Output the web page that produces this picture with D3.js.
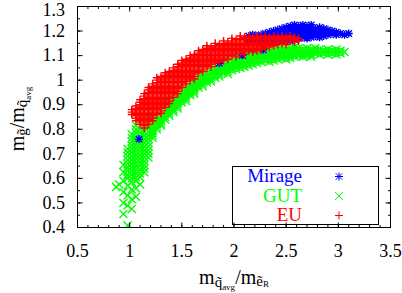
<!DOCTYPE html>
<html><head><meta charset="utf-8">
<script src="https://cdn.jsdelivr.net/npm/d3@7/dist/d3.min.js"></script>
<style>
body{margin:0;background:#fff}
svg{display:block}
svg text{font-family:"Liberation Serif","Times New Roman",serif}
</style>
</head><body>
<svg id="c" width="402" height="293"></svg>
<script>
// ---- data ----
const seriesNames = ["Mirage", "GUT", "EU"];
const xTicks = [0.5, 1, 1.5, 2, 2.5, 3, 3.5];
const yTicks = [0.4, 0.5, 0.6, 0.7, 0.8, 0.9, 1, 1.1, 1.2, 1.3];

// each entry: [x, [y values at that x]]
const euCols = [
[1.02,[.86,.87,.88]],
[1.06,[.835,.845,.855,.865,.875,.885,.895]],
[1.10,[.82,.83,.84,.85,.86,.87,.88,.89,.90,.91,.92]],
[1.14,[.805,.815,.825,.835,.845,.855,.865,.875,.885,.895,.905,.915,.925,.935,.945]],
[1.18,[.82,.83,.84,.85,.86,.87,.88,.89,.90,.91,.92,.93,.94,.95,.96,.97]],
[1.22,[.835,.845,.855,.865,.875,.885,.895,.905,.915,.925,.935,.945,.955,.965,.975,.985]],
[1.26,[.86,.87,.88,.89,.90,.91,.92,.93,.94,.95,.96,.97,.98,.99,1.00,1.01]],
[1.30,[.865,.875,.885,.895,.905,.915,.925,.935,.945,.955,.965,.975,.985,.995,1.005,1.015]],
[1.34,[.89,.90,.91,.92,.93,.94,.95,.96,.97,.98,.99,1.00,1.01,1.02,1.03]],
[1.38,[.905,.915,.925,.935,.945,.955,.965,.975,.985,.995,1.005,1.015,1.025,1.035]],
[1.42,[.93,.94,.95,.96,.97,.98,.99,1.00,1.01,1.02,1.03,1.04,1.05]],
[1.46,[.945,.955,.965,.975,.985,.995,1.005,1.015,1.025,1.035,1.045,1.055,1.065]],
[1.50,[.97,.98,.99,1.00,1.01,1.02,1.03,1.04,1.05,1.06,1.07,1.08]],
[1.54,[.985,.995,1.005,1.015,1.025,1.035,1.045,1.055,1.065,1.075,1.085]],
[1.58,[1.00,1.01,1.02,1.03,1.04,1.05,1.06,1.07,1.08,1.09,1.10]],
[1.62,[1.005,1.015,1.025,1.035,1.045,1.055,1.065,1.075,1.085,1.095,1.105]],
[1.66,[1.03,1.04,1.05,1.06,1.07,1.08,1.09,1.10,1.11,1.12]],
[1.70,[1.035,1.045,1.055,1.065,1.075,1.085,1.095,1.105,1.115,1.125]],
[1.74,[1.05,1.06,1.07,1.08,1.09,1.10,1.11,1.12,1.13,1.14]],
[1.78,[1.055,1.065,1.075,1.085,1.095,1.105,1.115,1.125,1.135]],
[1.82,[1.07,1.08,1.09,1.10,1.11,1.12,1.13,1.14,1.15]],
[1.86,[1.075,1.085,1.095,1.105,1.115,1.125,1.135,1.145]],
[1.90,[1.08,1.09,1.10,1.11,1.12,1.13,1.14,1.15,1.16]],
[1.94,[1.085,1.095,1.105,1.115,1.125,1.135,1.145,1.155]],
[1.98,[1.10,1.11,1.12,1.13,1.14,1.15,1.16,1.17]],
[2.02,[1.095,1.105,1.115,1.125,1.135,1.145,1.155,1.165]],
[2.06,[1.11,1.12,1.13,1.14,1.15,1.16,1.17,1.18]],
[2.10,[1.105,1.115,1.125,1.135,1.145,1.155,1.165,1.175]],
[2.14,[1.12,1.13,1.14,1.15,1.16,1.17,1.18]],
[2.18,[1.115,1.125,1.135,1.145,1.155,1.165,1.175]],
[2.22,[1.12,1.13,1.14,1.15,1.16,1.17,1.18]],
[2.26,[1.125,1.135,1.145,1.155,1.165,1.175]],
[2.30,[1.13,1.14,1.15,1.16,1.17,1.18]],
[2.34,[1.135,1.145,1.155,1.165,1.175]],
[2.38,[1.14,1.15,1.16,1.17,1.18]],
[2.42,[1.145,1.155,1.165,1.175]],
[2.46,[1.15,1.16,1.17,1.18]],
[2.50,[1.145,1.155,1.165,1.175]],
[2.54,[1.16,1.17,1.18]],
[2.58,[1.155,1.165,1.175]],
[2.62,[1.16,1.17]]
];

const gutCols = [
[0.87,[.565]],
[0.90,[.575]],
[0.94,[.455,.50,.545,.59,.625,.655]],
[0.98,[.408,.49,.53,.57,.60,.615,.63,.645,.66,.675,.69,.705,.72]],
[1.02,[.475,.515,.555,.585,.60,.615,.63,.645,.66,.675,.69,.705,.72,.735,.75,.765,.78]],
[1.06,[.525,.56,.59,.605,.62,.635,.65,.665,.68,.695,.71,.725,.74,.755,.77,.785,.80,.815]],
[1.10,[.575,.605,.62,.635,.65,.665,.68,.695,.71,.725,.74,.755,.77,.785,.80]],
[1.14,[.625,.64,.655,.67,.685,.70,.715,.73,.745,.76,.775,.79]],
[1.18,[.685,.70,.715,.73,.745,.76,.775,.79,.805,.82]],
[1.22,[.765,.775,.785,.795,.805,.815]],
[1.26,[.80,.81,.82,.83,.84]],
[1.30,[.815,.825,.835,.845,.855]],
[1.34,[.84,.85,.86,.87]],
[1.38,[.855,.865,.875,.885,.895]],
[1.42,[.87,.88,.89,.90,.91,.92]],
[1.46,[.885,.895,.905,.915,.925,.935]],
[1.50,[.91,.92,.93,.94,.95]],
[1.54,[.915,.925,.935,.945,.955,.965]],
[1.58,[.94,.95,.96,.97,.98]],
[1.62,[.945,.955,.965,.975,.985,.995]],
[1.66,[.97,.98,.99,1.00,1.01]],
[1.70,[.975,.985,.995,1.005,1.015]],
[1.74,[.99,1.00,1.01,1.02,1.03]],
[1.78,[.995,1.005,1.015,1.025,1.035]],
[1.82,[1.01,1.02,1.03,1.04,1.05]],
[1.86,[1.015,1.025,1.035,1.045,1.055]],
[1.90,[1.03,1.04,1.05,1.06]],
[1.94,[1.025,1.035,1.045,1.055,1.065]],
[1.98,[1.04,1.05,1.06,1.07,1.08]],
[2.02,[1.045,1.055,1.065,1.075,1.085]],
[2.06,[1.05,1.06,1.07,1.08,1.09]],
[2.10,[1.055,1.065,1.075,1.085,1.095]],
[2.14,[1.06,1.07,1.08,1.09,1.10]],
[2.18,[1.065,1.075,1.085,1.095,1.105]],
[2.22,[1.07,1.08,1.09,1.10,1.11]],
[2.26,[1.075,1.085,1.095,1.105,1.115]],
[2.30,[1.08,1.09,1.10,1.11]],
[2.34,[1.075,1.085,1.095,1.105,1.115]],
[2.38,[1.08,1.09,1.10,1.11,1.12]],
[2.42,[1.085,1.095,1.105,1.115,1.125]],
[2.46,[1.09,1.10,1.11,1.12,1.13]],
[2.50,[1.085,1.095,1.105,1.115,1.125]],
[2.54,[1.09,1.10,1.11,1.12,1.13]],
[2.58,[1.095,1.105,1.115,1.125,1.135]],
[2.62,[1.10,1.11,1.12,1.13]],
[2.66,[1.095,1.105,1.115,1.125]],
[2.70,[1.10,1.11,1.12,1.13]],
[2.74,[1.095,1.105,1.115,1.125]],
[2.78,[1.11,1.12,1.13]],
[2.82,[1.105,1.115,1.125]],
[2.86,[1.11,1.12]],
[2.90,[1.105,1.115,1.125]],
[2.94,[1.11,1.12]],
[2.98,[1.105,1.115,1.125]],
[3.02,[1.11,1.12]],
[3.06,[1.115]]
];

const mirageCols = [
[1.09,[.76]],
[1.86,[1.069]],
[2.08,[1.101]],
[2.28,[1.124]],
[2.14,[1.16,1.17,1.18]],
[2.18,[1.165,1.175,1.185]],
[2.22,[1.16,1.17,1.18]],
[2.26,[1.165,1.175,1.185]],
[2.30,[1.16,1.17,1.18,1.19]],
[2.34,[1.165,1.175,1.185,1.195]],
[2.38,[1.16,1.17,1.18,1.19,1.20]],
[2.42,[1.165,1.175,1.185,1.195,1.205]],
[2.46,[1.16,1.17,1.18,1.19,1.20,1.21]],
[2.50,[1.165,1.175,1.185,1.195,1.205,1.215]],
[2.54,[1.16,1.17,1.18,1.19,1.20,1.21,1.22]],
[2.58,[1.165,1.175,1.185,1.195,1.205,1.215,1.225]],
[2.62,[1.17,1.18,1.19,1.20,1.21,1.22]],
[2.66,[1.175,1.185,1.195,1.205,1.215,1.225]],
[2.70,[1.17,1.18,1.19,1.20,1.21,1.22]],
[2.74,[1.175,1.185,1.195,1.205,1.215,1.225]],
[2.78,[1.18,1.19,1.20,1.21]],
[2.82,[1.175,1.185,1.195,1.205,1.215]],
[2.86,[1.18,1.19,1.20,1.21]],
[2.90,[1.185,1.195,1.205]],
[2.94,[1.19,1.20]],
[2.98,[1.185,1.195]],
[3.02,[1.19]],
[3.06,[1.185]],
[3.10,[1.19]]
];

// ---- style / layout ----
const W = 402, H = 293;
const M = {left: 77.5, right: 390.5, top: 6.5, bottom: 227.5};
const colors = {Mirage: "#0000ff", GUT: "#00ff00", EU: "#ff0000"};
const FONT = "Liberation Serif";
const S = 4;
const shapes = {
  EU: `M${-S},0H${S}M0,${-S}V${S}`,
  GUT: `M${-S},${-S}L${S},${S}M${-S},${S}L${S},${-S}`,
  Mirage: `M${-S},0H${S}M0,${-S}V${S}M${-S*0.8},${-S*0.8}L${S*0.8},${S*0.8}M${-S*0.8},${S*0.8}L${S*0.8},${-S*0.8}`
};

const svg = d3.select("#c");
svg.append("rect").attr("width", W).attr("height", H).attr("fill", "#fff");

const xs = d3.scaleLinear().domain([0.5, 3.5]).range([M.left, M.right]);
const ys = d3.scaleLinear().domain([0.4, 1.3]).range([M.bottom, M.top]);

svg.append("clipPath").attr("id", "clip").append("rect")
  .attr("x", M.left).attr("y", M.top).attr("width", M.right - M.left).attr("height", M.bottom - M.top);

const flat = cols => cols.flatMap(([x, yv]) => yv.map(y => [x, y]));
const drawOrder = [["GUT", gutCols], ["Mirage", mirageCols], ["EU", euCols]];
const plot = svg.append("g").attr("clip-path", "url(#clip)");
drawOrder.forEach(([name, cols]) => {
  plot.append("g").attr("stroke", colors[name]).attr("stroke-width", 1.4).attr("fill", "none")
    .selectAll("path").data(flat(cols)).join("path")
    .attr("transform", d => `translate(${xs(d[0])},${ys(d[1])})`)
    .attr("d", shapes[name]);
});

// ---- axes ----
function styleAxis(g) {
  g.attr("font-family", null).attr("font-size", null);
  g.select(".domain").remove();
  g.selectAll("line").attr("stroke", "#000").attr("stroke-width", 1);
  g.selectAll("text").style("font-family", FONT).style("font-size", "18px").attr("fill", "#000");
}
function mk(axisFn, scale, vals, size, pad, fmt) {
  const a = axisFn(scale).tickValues(vals).tickSize(-size).tickPadding(pad).tickFormat(fmt);
  if (a.offset) a.offset(0);
  return a;
}
const fmt = d3.format("");
const none = () => "";
const xMinor = xs.ticks(30), yMinor = ys.ticks(18);

svg.append("g").attr("transform", `translate(0,${M.bottom})`).call(mk(d3.axisBottom, xs, xTicks, 5, 16.5, fmt)).call(styleAxis);
svg.append("g").attr("transform", `translate(0,${M.bottom})`).call(mk(d3.axisBottom, xs, xMinor, 2.5, 0, none)).call(styleAxis);
svg.append("g").attr("transform", `translate(0,${M.top})`).call(mk(d3.axisTop, xs, xTicks, 5, 0, none)).call(styleAxis);
svg.append("g").attr("transform", `translate(0,${M.top})`).call(mk(d3.axisTop, xs, xMinor, 2.5, 0, none)).call(styleAxis);
const yAx = svg.append("g").attr("transform", `translate(${M.left},0)`).call(mk(d3.axisLeft, ys, yTicks, 5, 12.5, fmt)).call(styleAxis);
yAx.selectAll("text").filter(d => d === 1.3).attr("dy", "0.55em");
svg.append("g").attr("transform", `translate(${M.left},0)`).call(mk(d3.axisLeft, ys, yMinor, 2.5, 0, none)).call(styleAxis);
svg.append("g").attr("transform", `translate(${M.right},0)`).call(mk(d3.axisRight, ys, yTicks, 5, 0, none)).call(styleAxis);
svg.append("g").attr("transform", `translate(${M.right},0)`).call(mk(d3.axisRight, ys, yMinor, 2.5, 0, none)).call(styleAxis);

svg.append("rect").attr("x", M.left).attr("y", M.top)
  .attr("width", M.right - M.left).attr("height", M.bottom - M.top)
  .attr("fill", "none").attr("stroke", "#000").attr("stroke-width", 1);

// ---- axis titles ----
const xt = svg.append("text").attr("x", (M.left + M.right) / 2).attr("y", 284)
  .attr("text-anchor", "middle").style("font-family", FONT).style("font-size", "20px").attr("fill", "#000");
xt.append("tspan").text("m");
xt.append("tspan").style("font-size", "15px").attr("dy", 3).text("q\u0303");
xt.append("tspan").style("font-size", "9px").attr("dy", 3).text("avg");
xt.append("tspan").attr("dy", -6).text("/m");
xt.append("tspan").style("font-size", "15px").attr("dy", 2).text("\u1EBD");
xt.append("tspan").style("font-size", "9px").attr("dy", 1).text("R");

const yt = svg.append("text").attr("transform", `translate(24,${(M.top + M.bottom) / 2 + 2}) rotate(-90)`)
  .attr("text-anchor", "middle").style("font-family", FONT).style("font-size", "20px").attr("fill", "#000");
yt.append("tspan").text("m");
yt.append("tspan").style("font-size", "15px").attr("dy", 3).text("g\u0303");
yt.append("tspan").attr("dy", -3).text("/m");
yt.append("tspan").style("font-size", "15px").attr("dy", 3).text("q\u0303");
yt.append("tspan").style("font-size", "9px").attr("dy", 4).text("avg");

// ---- legend ----
const lg = svg.append("g");
lg.append("rect").attr("x", 232.5).attr("y", 166.5).attr("width", 146).attr("height", 58)
  .attr("fill", "none").attr("stroke", "#000").attr("stroke-width", 1);
const rowBase = [182, 201.5, 221];
seriesNames.forEach((name, i) => {
  lg.append("text").attr("x", 302).attr("y", rowBase[i]).attr("text-anchor", "end")
    .style("font-family", FONT).style("font-size", "19px").attr("fill", colors[name]).text(name);
  lg.append("path").attr("transform", `translate(339,${rowBase[i] - 5.5})`)
    .attr("d", shapes[name]).attr("stroke", colors[name]).attr("stroke-width", 1).attr("fill", "none");
});
</script>
</body></html>
